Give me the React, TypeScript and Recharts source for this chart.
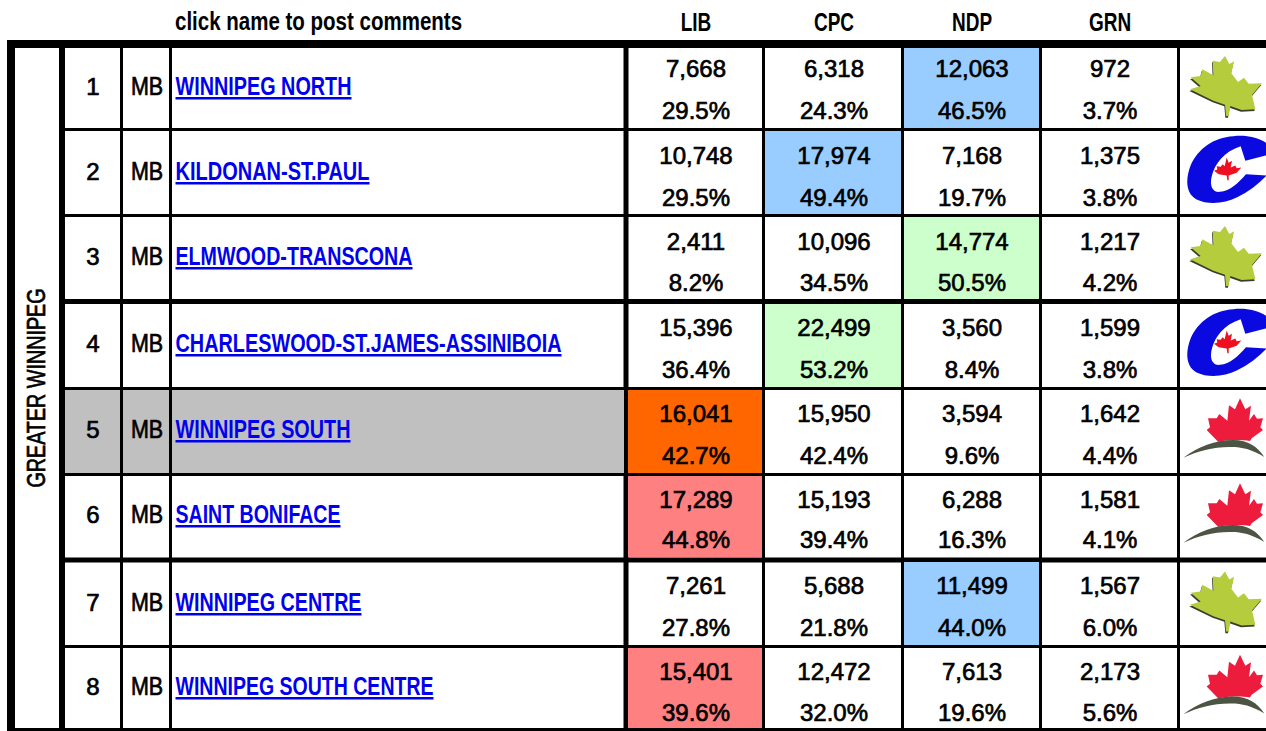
import { ScatterChart, Scatter, XAxis, YAxis, ReferenceLine } from "recharts";

const regionName = "GREATER WINNIPEG";
const headerNote = "click name to post comments";
const parties = ["LIB", "CPC", "NDP", "GRN"];
const ridingNums = [1, 2, 3, 4, 5, 6, 7, 8];
const province = ["MB", "MB", "MB", "MB", "MB", "MB", "MB", "MB"];
const ridings = [
    "WINNIPEG NORTH",
    "KILDONAN-ST.PAUL",
    "ELMWOOD-TRANSCONA",
    "CHARLESWOOD-ST.JAMES-ASSINIBOIA",
    "WINNIPEG SOUTH",
    "SAINT BONIFACE",
    "WINNIPEG CENTRE",
    "WINNIPEG SOUTH CENTRE",
];
const libVotes = ["7,668", "10,748", "2,411", "15,396", "16,041", "17,289", "7,261", "15,401"];
const cpcVotes = ["6,318", "17,974", "10,096", "22,499", "15,950", "15,193", "5,688", "12,472"];
const ndpVotes = ["12,063", "7,168", "14,774", "3,560", "3,594", "6,288", "11,499", "7,613"];
const grnVotes = ["972", "1,375", "1,217", "1,599", "1,642", "1,581", "1,567", "2,173"];
const libPct = ["29.5%", "29.5%", "8.2%", "36.4%", "42.7%", "44.8%", "27.8%", "39.6%"];
const cpcPct = ["24.3%", "49.4%", "34.5%", "53.2%", "42.4%", "39.4%", "21.8%", "32.0%"];
const ndpPct = ["46.5%", "19.7%", "50.5%", "8.4%", "9.6%", "16.3%", "44.0%", "19.6%"];
const grnPct = ["3.7%", "3.8%", "4.2%", "3.8%", "4.4%", "4.1%", "6.0%", "5.6%"];
const leaders = ["NDP", "CPC", "NDP", "CPC", "LIB", "LIB", "NDP", "LIB"];
const leadTone = ["blue", "blue", "green", "green", "orange", "red", "blue", "red"];
const logos = ["leaf", "cpc", "leaf", "cpc", "lib", "lib", "leaf", "lib"];
const closeRaces = ["WINNIPEG SOUTH"];

// ---- layout, in page pixels (the axes below run 1:1 with the page) ----
const W = 1266;
const H = 731;
const TONES: Record<string, string> = { blue: "#99CCFF", green: "#CCFFCC", orange: "#FF6600", red: "#FF8080" };
const cellTop = [48, 131, 217, 304, 390, 476, 562, 648];
const cellBottom = [128, 214, 299, 387, 473, 557, 645, 728];
const nameY = [86, 171, 256, 343, 429, 514, 602, 686];
const nameWidth = [176, 194, 237, 386, 175, 165, 186, 258];
const voteY = [68, 155, 241, 327, 413, 499, 585, 671];
const pctY = [110, 197, 282, 369, 455, 539, 627, 712];
const partyCol = [
    { x0: 628, x1: 762, cx: 696 },
    { x0: 765, x1: 901, cx: 834 },
    { x0: 904, x1: 1039, cx: 972 },
    { x0: 1042, x1: 1177, cx: 1110 },
];
const idCols = [
    { x0: 65, x1: 120 },
    { x0: 123, x1: 169 },
    { x0: 172, x1: 624 },
];
const vLines = [
    { x: 11, w: 8, from: 40 },
    { x: 62, w: 6, from: 44 },
    { x: 121.5, w: 3, from: 44 },
    { x: 170.5, w: 3, from: 44 },
    { x: 626, w: 5, from: 44 },
    { x: 763.5, w: 3, from: 44 },
    { x: 902.5, w: 3, from: 44 },
    { x: 1040.5, w: 3, from: 44 },
    { x: 1178.5, w: 3, from: 44 },
];
const hLines = [
    { y: 44, w: 8, from: 7 },
    { y: 129.5, w: 3, from: 62 },
    { y: 215.5, w: 3, from: 62 },
    { y: 301.5, w: 5, from: 62 },
    { y: 388.5, w: 3, from: 62 },
    { y: 474.5, w: 3, from: 62 },
    { y: 560, w: 5, from: 62 },
    { y: 646.5, w: 3, from: 62 },
    { y: 729.5, w: 3, from: 7 },
];

const FONT = "'Liberation Sans', sans-serif";

const mid = (i: number) => (cellTop[i] + cellBottom[i]) / 2;

const voteSeries = [libVotes, cpcVotes, ndpVotes, grnVotes];
const pctSeries = [libPct, cpcPct, ndpPct, grnPct];

// no condensed font is installed, so the narrow type is squeezed with sx
const textShape = (size: number, sx: number, weight: number | string, anchor: string, fill = "#000") => (p: any) => (
    <text
        transform={`translate(${p.cx},${p.cy + size * 0.36}) scale(${sx},1)`}
        textAnchor={anchor as any}
        fontFamily={FONT}
        fontSize={size}
        fontWeight={weight === "medium" ? "normal" : weight}
        fill={fill}
        stroke={weight === "medium" ? fill : undefined}
        strokeWidth={weight === "medium" ? 0.7 : undefined}
    >
        {p.payload.label}
    </text>
);

const fillShape = (p: any) => (
    <rect
        x={p.cx - p.payload.w / 2}
        y={p.cy - p.payload.h / 2}
        width={p.payload.w}
        height={p.payload.h}
        fill={p.payload.color}
    />
);

const linkShape = (p: any) => (
    <text
        x={p.cx}
        y={p.cy + 9}
        textLength={p.payload.w}
        lengthAdjust="spacingAndGlyphs"
        fontFamily={FONT}
        fontSize={25}
        fontWeight="bold"
        fill="#0000EE"
        textDecoration="underline"
    >
        {p.payload.label}
    </text>
);

const sideShape = (p: any) => (
    <text
        transform={`translate(${p.cx + 9},${p.cy}) rotate(-90) scale(0.79,1)`}
        textAnchor="middle"
        fontFamily={FONT}
        fontSize={25}
        fill="#000"
        stroke="#000"
        strokeWidth={0.7}
    >
        {p.payload.label}
    </text>
);

// logo outlines are traced in zoomed-up pixels, then scaled back down
const LEAF_D =
    "M165 48L178 72L192 64L184 100L204 126L222 113L236 131L276 130L246 165L256 208L215 210L181 198L176 228L168 228L165 194L130 182L60 148L92 138L62 112L92 108L97 88L130 106L128 62L150 66Z";
const CPC_OUTER =
    "M290 309C260 290 225 284 190 288C130 292 85 325 62 375C45 420 48 460 80 478C115 495 165 490 200 472C235 455 265 432 290 406L228 402C205 428 180 452 150 455C125 458 118 432 126 405C135 372 160 335 212 318L226 362L290 345Z";
const MAPLE_D =
    "M170 352L176 368L186 362L182 382L196 376L200 384L214 382L200 398L176 406L176 420L172 420L170 406L146 402L132 392L142 388L140 378L152 380L158 372L164 378Z";
const LIB_LEAF =
    "M210 25L226 58L243 47L237 92L252 72L261 86L279 85L271 112L279 120L245 145L240 153C210 148 165 150 145 156L110 120L120 112L114 85L140 85L148 72L172 92L177 46L195 58Z";
const LIB_SWOOSH = "M40 203C85 170 135 150 190 150C235 150 262 170 283 201C245 178 215 171 185 171C130 170 85 183 40 203Z";

const logoBlur = { filter: "blur(0.5px)" };

const logoShape = (p: any) => {
    const kind = p.payload.label;
    if (kind === "leaf") {
        return (
            <g style={logoBlur} transform={`translate(${p.cx},${p.cy}) scale(0.3333) translate(-160.5,-144)`}>
                <path d={LEAF_D} fill="#3c3c2c" transform="translate(-2,5)" />
                <path d={LEAF_D} fill="#B5CC3C" />
            </g>
        );
    }
    if (kind === "cpc") {
        return (
            <g style={logoBlur} transform={`translate(${p.cx},${p.cy}) scale(0.3333) translate(-160.5,-397)`}>
                <path d={CPC_OUTER} fill="#0A0AE0" />
                <path d={MAPLE_D} fill="#EE1020" />
            </g>
        );
    }
    return (
        <g style={logoBlur} transform={`translate(${p.cx},${p.cy}) scale(0.3333) translate(-160.5,-124.5)`}>
            <path d={LIB_LEAF} fill="#EE1C3C" />
            <path d={LIB_SWOOSH} fill="#4C5444" />
        </g>
    );
};

// cells that get a colour behind them
const leadFills = ridings.map((_, i) => {
    const col = partyCol[parties.indexOf(leaders[i])];
    return {
        x: (col.x0 + col.x1) / 2,
        y: mid(i),
        w: col.x1 - col.x0,
        h: cellBottom[i] - cellTop[i],
        color: TONES[leadTone[i]],
    };
});
const closeFills = ridings
    .map((r, i) => ({ r, i }))
    .filter(({ r }) => closeRaces.includes(r))
    .flatMap(({ i }) =>
        idCols.map((col) => ({
            x: (col.x0 + col.x1) / 2,
            y: mid(i),
            w: col.x1 - col.x0,
            h: cellBottom[i] - cellTop[i],
            color: "#C0C0C0",
        }))
    );

const numData = ridingNums.map((n, i) => ({ x: 93, y: nameY[i], label: String(n) }));
const provData = province.map((s, i) => ({ x: 147, y: nameY[i], label: s }));
const nameData = ridings.map((s, i) => ({ x: 175.5, y: nameY[i], label: s, w: nameWidth[i] }));
const logoData = logos.map((s, i) => ({ x: 1223.5, y: mid(i), label: s }));
const headerData = parties.map((s, i) => ({ x: partyCol[i].cx, y: 22, label: s }));

export default function App() {
    return (
        <div style={{ position: "absolute", left: 0, top: 0, width: W, height: H, overflow: "hidden", background: "#fff" }}>
            <ScatterChart width={W} height={H} margin={{ top: 0, right: 0, bottom: 0, left: 0 }}>
                <XAxis type="number" dataKey="x" domain={[0, W]} hide allowDataOverflow />
                <YAxis type="number" dataKey="y" domain={[0, H]} hide reversed allowDataOverflow />

                <Scatter data={closeFills} shape={fillShape} isAnimationActive={false} />
                <Scatter data={leadFills} shape={fillShape} isAnimationActive={false} />

                {vLines.map((l) => (
                    <ReferenceLine
                        key={`v${l.x}`}
                        segment={[{ x: l.x, y: l.from }, { x: l.x, y: H }]}
                        stroke="#000"
                        strokeWidth={l.w}
                    />
                ))}
                {hLines.map((l) => (
                    <ReferenceLine
                        key={`h${l.y}`}
                        segment={[{ x: l.from, y: l.y }, { x: W, y: l.y }]}
                        stroke="#000"
                        strokeWidth={l.w}
                    />
                ))}

                <Scatter
                    data={[{ x: 175, y: 21, label: headerNote }]}
                    shape={textShape(25, 0.82, "bold", "start")}
                    isAnimationActive={false}
                />
                <Scatter data={headerData} shape={textShape(25, 0.76, "bold", "middle")} isAnimationActive={false} />
                <Scatter data={[{ x: 36, y: 388, label: regionName }]} shape={sideShape} isAnimationActive={false} />

                <Scatter data={numData} shape={textShape(24.5, 0.98, "medium", "middle")} isAnimationActive={false} />
                <Scatter data={provData} shape={textShape(25, 0.86, "medium", "middle")} isAnimationActive={false} />
                <Scatter data={nameData} shape={linkShape} isAnimationActive={false} />

                {parties.map((party, c) => (
                    <Scatter
                        key={`votes-${party}`}
                        name={party}
                        data={voteSeries[c].map((v, i) => ({ x: partyCol[c].cx, y: voteY[i], label: v }))}
                        shape={textShape(24.5, 0.98, "medium", "middle")}
                        isAnimationActive={false}
                    />
                ))}
                {parties.map((party, c) => (
                    <Scatter
                        key={`pct-${party}`}
                        name={`${party} %`}
                        data={pctSeries[c].map((v, i) => ({ x: partyCol[c].cx, y: pctY[i], label: v }))}
                        shape={textShape(24.5, 0.98, "medium", "middle")}
                        isAnimationActive={false}
                    />
                ))}

                <Scatter data={logoData} shape={logoShape} isAnimationActive={false} />
            </ScatterChart>
        </div>
    );
}
